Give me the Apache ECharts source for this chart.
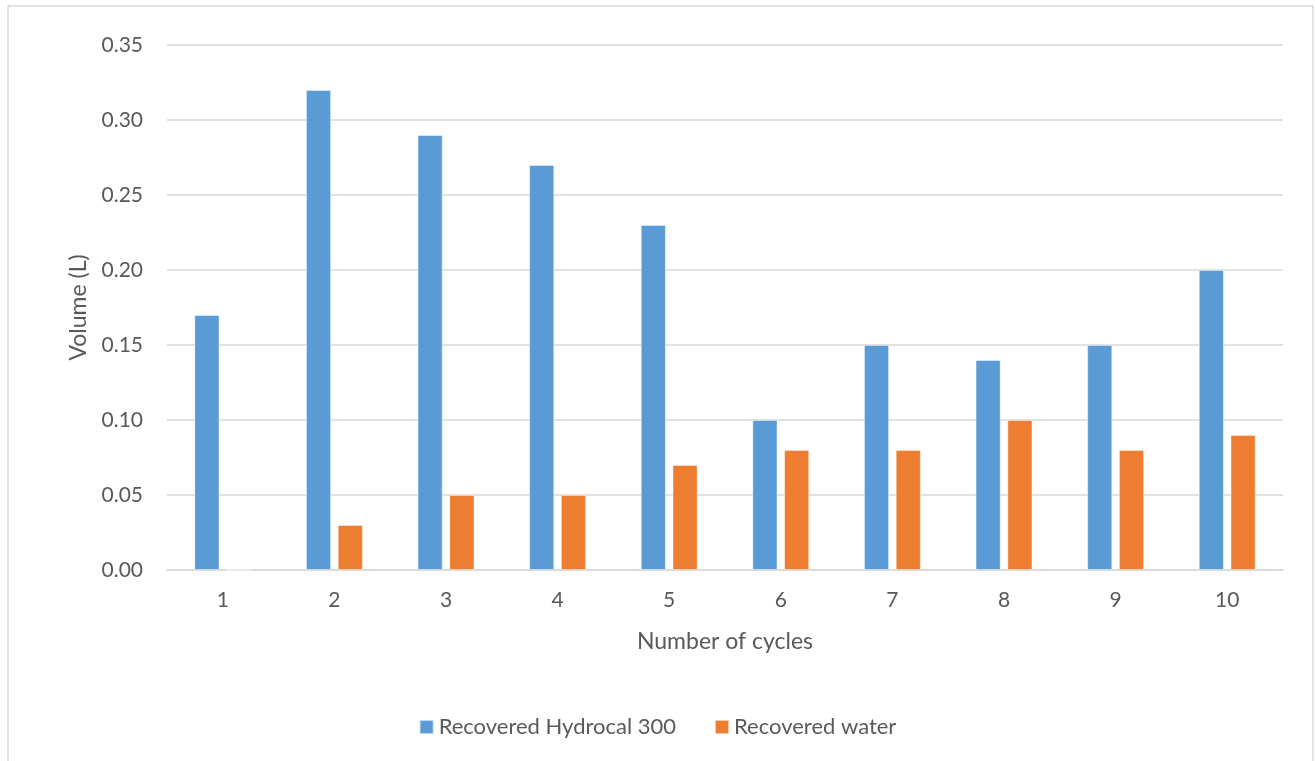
<!DOCTYPE html>
<html>
<head>
<meta charset="utf-8">
<script src="https://cdn.jsdelivr.net/npm/echarts@6/dist/echarts.min.js"></script>
<style>
  html, body { margin: 0; padding: 0; background: #fff; }
  #chart { width: 1315px; height: 761px; }
</style>
</head>
<body>
<div id="chart"></div>
<script>
// cycles and recovered volumes (L)
var cycles = ['1', '2', '3', '4', '5', '6', '7', '8', '9', '10'];
var hydrocal = [0.17, 0.32, 0.29, 0.27, 0.23, 0.10, 0.15, 0.14, 0.15, 0.20];
var water = [0, 0.03, 0.05, 0.05, 0.07, 0.08, 0.08, 0.10, 0.08, 0.09];
var seriesNames = ['Recovered Hydrocal 300', 'Recovered water'];

var font = 'Lato, "Noto Sans", sans-serif';
var txt = '#595959';

var myChart = echarts.init(document.getElementById('chart'));
myChart.setOption({
    animation: false,
    color: ['#5b9bd5', '#ed7d31'],
    graphic: [{
        type: 'rect',
        shape: { x: 8, y: 6, width: 1305, height: 800 },
        style: { fill: 'none', stroke: '#d9d9d9', lineWidth: 1.5 }
    }],
    grid: { left: 167, right: 32, top: 45, bottom: 191 },
    legend: {
        bottom: 18,
        left: 'center',
        itemWidth: 14,
        itemHeight: 14,
        itemGap: 38,
        icon: 'rect',
        textStyle: { fontFamily: font, fontSize: 22, color: txt },
        data: seriesNames
    },
    xAxis: {
        type: 'category',
        data: cycles,
        name: 'Number of cycles',
        nameLocation: 'middle',
        nameGap: 60,
        nameTextStyle: { fontFamily: font, fontSize: 23, color: txt },
        axisTick: { show: false },
        axisLine: { lineStyle: { color: '#d9d9d9', width: 1.5 } },
        axisLabel: { fontFamily: font, fontSize: 21, color: txt, margin: 20 }
    },
    yAxis: {
        type: 'value',
        min: 0,
        max: 0.35,
        interval: 0.05,
        name: 'Volume (L)',
        nameLocation: 'middle',
        nameGap: 77,
        nameTextStyle: { fontFamily: font, fontSize: 23, color: txt },
        axisLine: { show: false },
        axisTick: { show: false },
        splitLine: { lineStyle: { color: '#d9d9d9', width: 1.5 } },
        axisLabel: {
            fontFamily: font, fontSize: 21, color: txt, margin: 24,
            formatter: function (v) { return v.toFixed(2); }
        }
    },
    series: [
        {
            name: seriesNames[0],
            type: 'bar',
            data: hydrocal,
            barWidth: 25,
            barGap: '27%',
            itemStyle: { borderColor: 'rgba(255,255,255,0.6)', borderWidth: 0.8 }
        },
        {
            name: seriesNames[1],
            type: 'bar',
            data: water,
            barWidth: 25,
            barGap: '27%',
            itemStyle: { borderColor: 'rgba(255,255,255,0.6)', borderWidth: 0.8 }
        }
    ]
});
</script>
</body>
</html>
